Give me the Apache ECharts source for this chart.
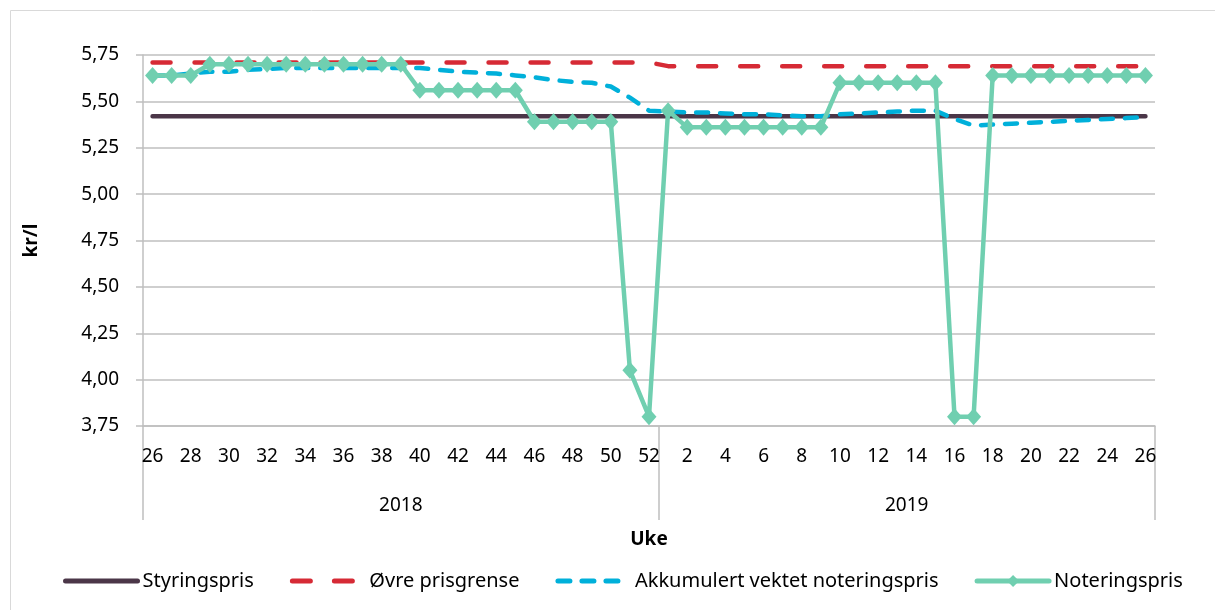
<!DOCTYPE html>
<html>
<head>
<meta charset="utf-8">
<script src="https://cdn.jsdelivr.net/npm/echarts@6/dist/echarts.min.js"></script>
<style>
  html, body { margin: 0; padding: 0; background: #fff; }
  #chart { width: 1215px; height: 610px; }
</style>
</head>
<body>
<div id="chart"></div>
<script>
// weeks per year (tick labels)
var weeks2018 = ['26','27','28','29','30','31','32','33','34','35','36','37','38','39','40','41','42','43','44','45','46','47','48','49','50','51','52'];
var weeks2019 = ['1','2','3','4','5','6','7','8','9','10','11','12','13','14','15','16','17','18','19','20','21','22','23','24','25','26'];
var years = ['2018', '2019'];

var styringspris = [
  5.42,5.42,5.42,5.42,5.42,5.42,5.42,5.42,5.42,5.42,5.42,5.42,5.42,5.42,5.42,5.42,5.42,5.42,5.42,5.42,5.42,5.42,5.42,5.42,5.42,5.42,5.42,
  5.42,5.42,5.42,5.42,5.42,5.42,5.42,5.42,5.42,5.42,5.42,5.42,5.42,5.42,5.42,5.42,5.42,5.42,5.42,5.42,5.42,5.42,5.42,5.42,5.42,5.42
];
var ovrePrisgrense = [
  5.71,5.71,5.71,5.71,5.71,5.71,5.71,5.71,5.71,5.71,5.71,5.71,5.71,5.71,5.71,5.71,5.71,5.71,5.71,5.71,5.71,5.71,5.71,5.71,5.71,5.71,5.71,
  5.69,5.69,5.69,5.69,5.69,5.69,5.69,5.69,5.69,5.69,5.69,5.69,5.69,5.69,5.69,5.69,5.69,5.69,5.69,5.69,5.69,5.69,5.69,5.69,5.69,5.69
];
var akkumulert = [
  5.64,5.64,5.65,5.66,5.66,5.67,5.675,5.68,5.68,5.68,5.68,5.68,5.68,5.68,5.68,5.67,5.66,5.655,5.65,5.64,5.63,5.615,5.605,5.60,5.58,5.52,5.45,
  5.445,5.44,5.44,5.435,5.43,5.43,5.425,5.42,5.42,5.43,5.435,5.44,5.445,5.45,5.45,5.405,5.37,5.375,5.38,5.385,5.39,5.395,5.40,5.405,5.41,5.415
];
var noteringspris = [
  5.64,5.64,5.64,5.70,5.70,5.70,5.70,5.70,5.70,5.70,5.70,5.70,5.70,5.70,5.56,5.56,5.56,5.56,5.56,5.56,5.39,5.39,5.39,5.39,5.39,4.05,3.80,
  5.45,5.36,5.36,5.36,5.36,5.36,5.36,5.36,5.36,5.60,5.60,5.60,5.60,5.60,5.60,3.80,3.80,5.64,5.64,5.64,5.64,5.64,5.64,5.64,5.64,5.64
];

var categories = weeks2018.concat(weeks2019);
var yearCats = weeks2018.map(function(){ return years[0]; }).concat(weeks2019.map(function(){ return years[1]; }));
var yearLabelIdx = [13, 39];
var yearTickIdx = [0, weeks2018.length];

var font = 'Noto Sans';
var chart = echarts.init(document.getElementById('chart'));

var noSymbol = { opacity: 0 };

var option = {
  animation: false,
  textStyle: { fontFamily: font },
  grid: { left: 143, right: 60, top: 55, bottom: 184, containLabel: false },
  graphic: [
    { type: 'line', shape: { x1: 10.5, y1: 10.5, x2: 1215, y2: 10.5 }, style: { stroke: '#d9d9d9', lineWidth: 1 } },
    { type: 'line', shape: { x1: 10.5, y1: 10.5, x2: 10.5, y2: 610 }, style: { stroke: '#d9d9d9', lineWidth: 1 } }
  ],
  legend: {
    left: 58,
    top: 566,
    itemWidth: 72,
    itemHeight: 15,
    itemGap: 36,
    lineStyle: { width: 5, cap: 'round' },
    textStyle: { fontFamily: font, fontSize: 20, color: '#000' },
    data: [
      { name: 'Styringspris', itemStyle: noSymbol },
      { name: 'Øvre prisgrense', itemStyle: noSymbol },
      { name: 'Akkumulert vektet noteringspris', itemStyle: noSymbol },
      { name: 'Noteringspris' }
    ]
  },
  xAxis: [
    {
      type: 'category',
      data: categories,
      boundaryGap: true,
      name: 'Uke',
      nameLocation: 'middle',
      nameGap: 104,
      nameTextStyle: { fontFamily: font, fontSize: 19, fontWeight: 'bold', color: '#000' },
      axisLine: { lineStyle: { color: '#bfbfbf', width: 1.5 } },
      axisTick: { show: false },
      axisLabel: { interval: 1, margin: 21, fontSize: 19, color: '#000', fontFamily: font }
    },
    {
      type: 'category',
      data: yearCats,
      boundaryGap: true,
      position: 'bottom',
      axisLine: { show: false },
      axisTick: {
        show: true,
        length: 94,
        interval: function (idx) { return yearTickIdx.indexOf(idx) >= 0; },
        lineStyle: { color: '#bfbfbf', width: 1.5 }
      },
      axisLabel: {
        interval: function (idx) { return yearLabelIdx.indexOf(idx) >= 0; },
        margin: 70,
        fontSize: 19,
        color: '#000',
        fontFamily: font,
        formatter: function (v) { return v === years[1] ? '{b|' + v + '}' : v; },
        rich: { b: { fontSize: 19, fontFamily: font, color: '#000', padding: [0, 0, 0, 19] } }
      }
    }
  ],
  yAxis: {
    type: 'value',
    min: 3.75,
    max: 5.75,
    interval: 0.25,
    name: 'kr/l',
    nameLocation: 'middle',
    nameGap: 102,
    nameTextStyle: { fontFamily: font, fontSize: 19, fontWeight: 'bold', color: '#000' },
    axisLine: { show: true, lineStyle: { color: '#bfbfbf', width: 1.5 } },
    axisTick: { show: true, length: 7, lineStyle: { color: '#bfbfbf', width: 1.5 } },
    splitLine: { lineStyle: { color: '#bfbfbf', width: 1.5 } },
    axisLabel: {
      margin: 24,
      fontSize: 19,
      color: '#000',
      fontFamily: font,
      formatter: function (v) { return v.toFixed(2).replace('.', ','); }
    }
  },
  series: [
    {
      name: 'Styringspris',
      type: 'line',
      data: styringspris,
      symbol: 'none',
      itemStyle: { color: '#4b3648' },
      lineStyle: { color: '#4b3648', width: 4.5, cap: 'round' }
    },
    {
      name: 'Øvre prisgrense',
      type: 'line',
      data: ovrePrisgrense,
      symbol: 'none',
      itemStyle: { color: '#d62a35' },
      lineStyle: { color: '#d62a35', width: 4.5, type: [18, 24], cap: 'round' }
    },
    {
      name: 'Akkumulert vektet noteringspris',
      type: 'line',
      data: akkumulert,
      symbol: 'none',
      itemStyle: { color: '#00b0da' },
      lineStyle: { color: '#00b0da', width: 4.5, type: [12, 12], cap: 'round' }
    },
    {
      name: 'Noteringspris',
      type: 'line',
      data: noteringspris,
      symbol: 'diamond',
      symbolSize: [15, 17],
      showAllSymbol: true,
      itemStyle: { color: '#70cfb0' },
      lineStyle: { color: '#70cfb0', width: 4.5 }
    }
  ]
};

chart.setOption(option);
</script>
</body>
</html>
